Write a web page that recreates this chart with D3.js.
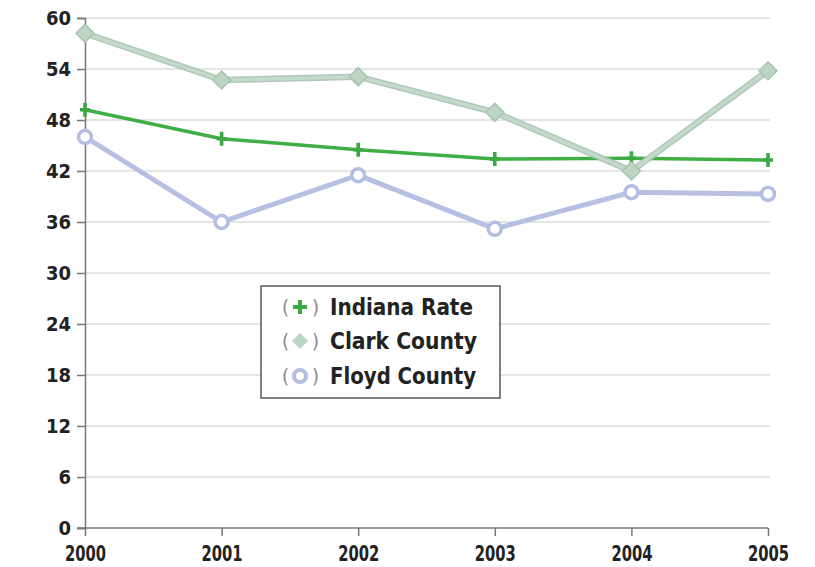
<!DOCTYPE html>
<html>
<head>
<meta charset="utf-8">
<script src="https://cdn.jsdelivr.net/npm/d3@7"></script>
<style>
  body { margin: 0; background: #fff; }
  svg text { font-family: "DejaVu Sans", sans-serif; font-stretch: condensed; font-weight: bold; fill: #222; }
</style>
</head>
<body>
<svg width="815" height="567"></svg>
<script>
const years = [2000, 2001, 2002, 2003, 2004, 2005];
const yTicks = [0, 6, 12, 18, 24, 30, 36, 42, 48, 54, 60];
const indianaRate = [49.2, 45.8, 44.5, 43.4, 43.5, 43.3];
const clarkCounty = [58.2, 52.7, 53.1, 48.9, 42.0, 53.8];
const floydCounty = [46.0, 36.0, 41.5, 35.2, 39.5, 39.3];
const seriesNames = ['Indiana Rate', 'Clark County', 'Floyd County'];

const svg = d3.select('svg');
const margin = { left: 85, right: 47, top: 18, bottom: 39 };
const width = 815 - margin.left - margin.right;
const height = 567 - margin.top - margin.bottom;

const x = d3.scaleLinear().domain([2000, 2005]).range([0, width]);
const y = d3.scaleLinear().domain([0, 60]).range([height, 0]);

const g = svg.append('g').attr('transform', `translate(${margin.left},${margin.top})`);

// grid
g.selectAll('.grid').data(yTicks.filter(d => d > 0)).enter().append('line')
    .attr('x1', 0).attr('x2', width + 2)
    .attr('y1', d => y(d)).attr('y2', d => y(d))
    .attr('stroke', '#dcdcdc').attr('stroke-width', 1.5);

// y axis
const yAxis = g.append('g').call(d3.axisLeft(y).tickValues(yTicks).tickSize(8).tickPadding(6));
yAxis.select('.domain').attr('stroke', '#777').attr('stroke-width', 1.5);
yAxis.selectAll('line').attr('stroke', '#777').attr('stroke-width', 1.5);
yAxis.selectAll('text').style('font-size', '20px').attr('dy', '0.3em');

// x axis
const xAxis = g.append('g').attr('transform', `translate(0,${height})`)
    .call(d3.axisBottom(x).tickValues(years).tickFormat(d3.format('d')).tickSize(8).tickPadding(9).tickSizeOuter(0));
xAxis.select('.domain').attr('stroke', '#777').attr('stroke-width', 1.5)
    .attr('d', `M-8,0H${width}`);
xAxis.selectAll('line').attr('stroke', '#777').attr('stroke-width', 1.5);
xAxis.selectAll('text').style('font-size', '22px')
    .attr('textLength', 41).attr('lengthAdjust', 'spacingAndGlyphs');

const line = d3.line().x((d, i) => x(years[i])).y(d => y(d));

// Floyd County
g.append('path').datum(floydCounty).attr('d', line)
    .attr('fill', 'none').attr('stroke', '#b7c0e3').attr('stroke-width', 5);
g.selectAll('.floyd').data(floydCounty).enter().append('circle')
    .attr('cx', (d, i) => x(years[i])).attr('cy', d => y(d)).attr('r', 6.5)
    .attr('fill', '#fff').attr('stroke', '#b3bde2').attr('stroke-width', 3.5);

// Indiana Rate
g.append('path').datum(indianaRate).attr('d', line)
    .attr('fill', 'none').attr('stroke', '#3fae45').attr('stroke-width', 3.5);
g.selectAll('.indiana').data(indianaRate).enter().append('path')
    .attr('transform', (d, i) => `translate(${x(years[i])},${y(d)})`)
    .attr('d', 'M-1.8,-7H1.8V-1.8H5V1.8H1.8V7H-1.8V1.8H-5V-1.8H-1.8Z')
    .attr('fill', '#3aa942');

// Clark County
g.append('path').datum(clarkCounty).attr('d', line)
    .attr('fill', 'none').attr('stroke', '#a9c2b2').attr('stroke-width', 6.5).attr('opacity', 0.9);
g.append('path').datum(clarkCounty).attr('d', line)
    .attr('fill', 'none').attr('stroke', '#c6dccb').attr('stroke-width', 3.5).attr('opacity', 0.9);
g.selectAll('.clark').data(clarkCounty).enter().append('path')
    .attr('transform', (d, i) => `translate(${x(years[i])},${y(d)})`)
    .attr('d', 'M0,-9L9,0L0,9L-9,0Z')
    .attr('fill', '#bcd6c3').attr('stroke', '#a9c2b2').attr('stroke-width', 1.5);

// legend
const lg = svg.append('g').attr('transform', 'translate(261,286)');
lg.append('rect').attr('width', 239).attr('height', 112)
    .attr('fill', '#fff').attr('stroke', '#555').attr('stroke-width', 1.5);
const rowY = [21, 55, 90];
const labelWidths = [143, 147, 146];
seriesNames.forEach((name, i) => {
    const r = lg.append('g').attr('transform', `translate(0,${rowY[i]})`);
    r.append('text').attr('x', 21).attr('y', 0).attr('dy', '0.35em')
        .style('font-size', '20px').style('font-weight', 'normal').style('fill', '#888').text('(');
    r.append('text').attr('x', 51).attr('y', 0).attr('dy', '0.35em')
        .style('font-size', '20px').style('font-weight', 'normal').style('fill', '#888').text(')');
    const cx = 39;
    if (i === 0) {
        r.append('path').attr('transform', `translate(${cx},0)`)
            .attr('d', 'M-2,-7H2V-2H7V2H2V7H-2V2H-7V-2H-2Z').attr('fill', '#3aa942');
    } else if (i === 1) {
        r.append('path').attr('transform', `translate(${cx},0)`)
            .attr('d', 'M0,-8L8,0L0,8L-8,0Z').attr('fill', '#bcd6c3');
    } else {
        r.append('circle').attr('cx', cx).attr('cy', 0).attr('r', 6)
            .attr('fill', '#fff').attr('stroke', '#b3bde2').attr('stroke-width', 4);
    }
    r.append('text').attr('x', 69).attr('y', 0).attr('dy', '0.36em')
        .style('font-size', '23px')
        .attr('textLength', labelWidths[i]).attr('lengthAdjust', 'spacingAndGlyphs')
        .text(name);
});
</script>
</body>
</html>
